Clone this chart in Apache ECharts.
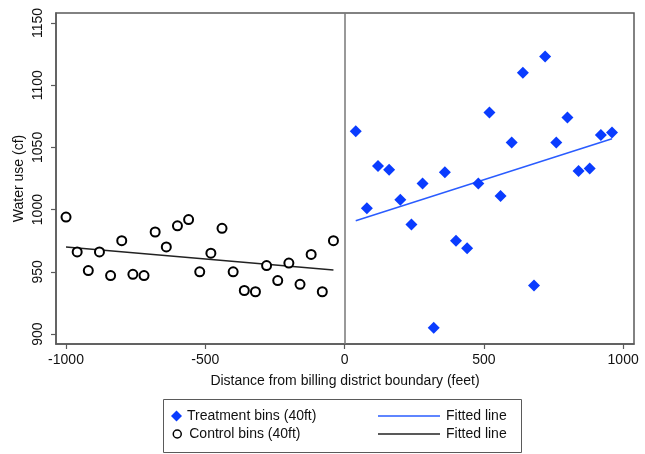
<!DOCTYPE html>
<html lang="en">

<head>
    <meta charset="UTF-8" />
    <title>Water use by distance from boundary</title>
    <script src="https://cdn.jsdelivr.net/npm/echarts@6/dist/echarts.min.js"></script>
    <style>
        html, body { margin: 0; padding: 0; background: #fff; }
        #main { width: 645px; height: 454px; }
    </style>
</head>

<body>
    <div id="main"></div>
</body>
<script>
    // bins (feet from boundary), 40ft wide
    var controlBins = [-1000, -960, -920, -880, -840, -800, -760, -720, -680, -640, -600, -560, -520,
        -480, -440, -400, -360, -320, -280, -240, -200, -160, -120, -80, -40];
    var controlUse = [994, 966, 951, 966, 947, 975, 948, 947, 982, 970, 987, 992, 950,
        965, 985, 950, 935, 934, 955, 943, 957, 940, 964, 934, 975];

    var treatmentBins = [40, 80, 120, 160, 200, 240, 280, 320, 360, 400, 440, 480,
        520, 560, 600, 640, 680, 720, 760, 800, 840, 880, 920, 960];
    var treatmentUse = [1063, 1001, 1035, 1032, 1008, 988, 1021, 905, 1030, 975, 969, 1021,
        1078, 1011, 1054, 1110, 939, 1123, 1054, 1074, 1031, 1033, 1060, 1062];

    // fitted line end points
    var controlFitX = [-1000, -40];
    var controlFitY = [970, 951.5];
    var treatmentFitX = [40, 960];
    var treatmentFitY = [991, 1057];

    var xTicks = [-1000, -500, 0, 500, 1000];
    var yTicks = [900, 950, 1000, 1050, 1100, 1150];

    function pairs(xs, ys) {
        var out = [];
        for (var i = 0; i < xs.length; i++) out.push([xs[i], ys[i]]);
        return out;
    }

    var font = '"Liberation Sans", Arial, sans-serif';
    var frame = '#5a5a5a';
    var blue = '#0a3cff';
    var lineIcon = 'path://M0,0H60V1.5H0Z';
    var legendText = { fontSize: 14, color: '#111', fontFamily: font };

    var myChart = echarts.init(document.getElementById('main'));

    var option = {
        animation: false,
        textStyle: { fontFamily: font },
        grid: {
            left: 56, right: 11, top: 13, bottom: 110,
            show: true, borderColor: frame, borderWidth: 1.5, backgroundColor: '#fff'
        },
        xAxis: {
            type: 'value',
            min: -1036, max: 1039,
            name: 'Distance from billing district boundary (feet)',
            nameLocation: 'middle',
            nameGap: 30,
            nameTextStyle: { fontSize: 14, color: '#111', fontFamily: font },
            splitLine: { show: false },
            axisLine: { show: true, onZero: false, lineStyle: { color: frame, width: 1.5 } },
            axisTick: { show: true, length: 5, customValues: xTicks, lineStyle: { color: frame, width: 1.2 } },
            axisLabel: {
                customValues: xTicks, fontSize: 14, color: '#111', margin: 9, fontFamily: font,
                formatter: function (v) { return String(v); }
            }
        },
        yAxis: {
            type: 'value',
            min: 892, max: 1158,
            name: 'Water use (cf)',
            nameLocation: 'middle',
            nameRotate: 90,
            nameGap: 30,
            nameMoveOverlap: false,
            nameTextStyle: { fontSize: 14, color: '#111', fontFamily: font },
            splitLine: { show: false },
            axisLine: { show: true, onZero: false, lineStyle: { color: frame, width: 1.5 } },
            axisTick: { show: true, length: 5, customValues: yTicks, lineStyle: { color: frame, width: 1.2 } },
            axisLabel: {
                customValues: yTicks, rotate: 90, fontSize: 14, color: '#111', margin: 11, fontFamily: font,
                formatter: function (v) { return String(v); }
            }
        },
        legend: [{
            left: 166, top: 404,
            itemWidth: 11, itemHeight: 11,
            textStyle: legendText,
            data: [{ name: 'Treatment bins (40ft)', icon: 'diamond' }]
        }, {
            left: 167.5, top: 422,
            itemWidth: 8, itemHeight: 8,
            textStyle: { fontSize: 14, color: '#111', fontFamily: font, padding: [0, 0, 0, 3] },
            data: [{ name: 'Control bins (40ft)', icon: 'circle', itemStyle: { color: '#fff', borderColor: '#000', borderWidth: 1.5 } }]
        }, {
            left: 373, top: 404,
            orient: 'vertical',
            itemGap: 4,
            itemWidth: 62, itemHeight: 14,
            textStyle: { fontSize: 14, color: '#111', fontFamily: font, padding: [0, 0, 0, 1] },
            formatter: function () { return 'Fitted line'; },
            data: [
                { name: 'Fitted line (treatment)', icon: lineIcon },
                { name: 'Fitted line (control)', icon: lineIcon }
            ]
        }],
        graphic: [{
            type: 'rect',
            z: -1,
            shape: { x: 163.5, y: 399.5, width: 358, height: 53 },
            style: { fill: '#fff', stroke: frame, lineWidth: 1 }
        }],
        series: [{
            name: 'Treatment bins (40ft)',
            type: 'scatter',
            symbol: 'diamond',
            symbolSize: 12,
            itemStyle: { color: blue, opacity: 1 },
            data: pairs(treatmentBins, treatmentUse),
            z: 3,
            markLine: {
                silent: true,
                symbol: 'none',
                label: { show: false },
                lineStyle: { color: '#777', width: 1.5, type: 'solid' },
                data: [{ xAxis: 0 }]
            }
        }, {
            name: 'Control bins (40ft)',
            type: 'scatter',
            symbol: 'circle',
            symbolSize: 9,
            itemStyle: { color: '#fff', borderColor: '#000', borderWidth: 2, opacity: 1 },
            data: pairs(controlBins, controlUse),
            z: 3
        }, {
            name: 'Fitted line (treatment)',
            type: 'line',
            symbol: 'none',
            lineStyle: { color: '#2a5cff', width: 1.5 },
            itemStyle: { color: '#2a5cff' },
            data: pairs(treatmentFitX, treatmentFitY),
            z: 2
        }, {
            name: 'Fitted line (control)',
            type: 'line',
            symbol: 'none',
            lineStyle: { color: '#222', width: 1.5 },
            itemStyle: { color: '#222' },
            data: pairs(controlFitX, controlFitY),
            z: 2
        }]
    };

    myChart.setOption(option);
</script>

</html>
